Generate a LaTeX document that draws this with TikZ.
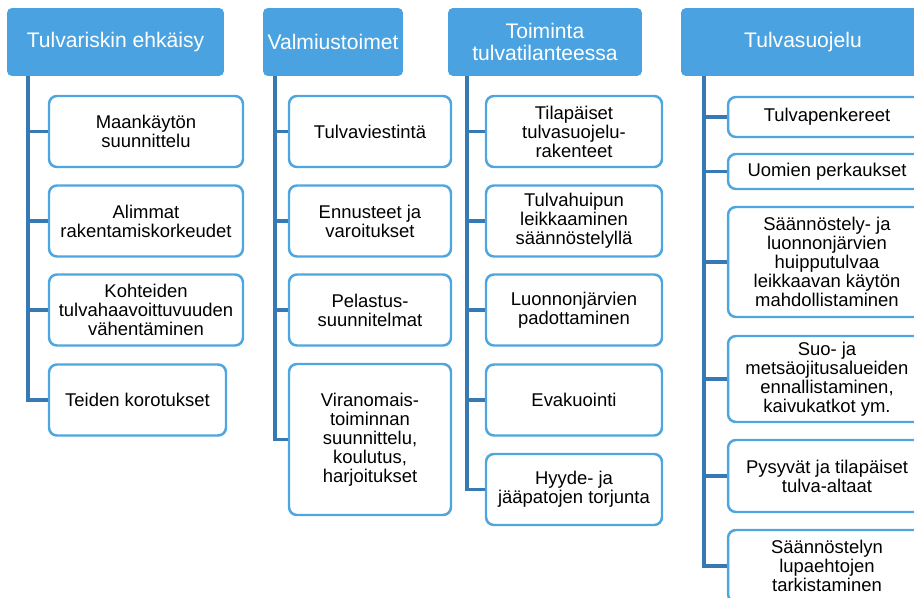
\documentclass[tikz,border=0pt]{standalone}
\usepackage{fontspec}
\setmainfont{Liberation Sans}
\definecolor{headblue}{HTML}{4AA3E0}
\definecolor{boxblue}{HTML}{4EA6E0}
\definecolor{lineblue}{HTML}{3679B3}
\tikzset{
	head/.style={fill=headblue, text=white, rounded corners=2.8pt, align=center, inner sep=1pt, minimum height=1.36cm, font=\fontsize{12}{12.6}\selectfont},
	item/.style={draw=boxblue, line width=1.4pt, fill=white, rounded corners=4.5pt, align=center, inner sep=1pt, font=\fontsize{10.5}{10.8}\selectfont},
	conn/.style={draw=lineblue, line width=2pt}
}
\begin{document}
\begin{tikzpicture}[x=.02cm, y=-.02cm]

	\useasboundingbox (0,0) rectangle (914,598);
	\clip (0,0) rectangle (914,598);

	\node[head, minimum width=4.34cm] (h1) at (115.5,42) {Tulvariskin ehkäisy};
	\node[head, minimum width=2.8cm] (h2) at (333,42) {Valmiustoimet};
	\node[head, minimum width=3.88cm] (h3) at (545,42) {Toiminta\\tulvatilanteessa};
	\node[head, minimum width=4.88cm] (h4) at (803,42) {Tulvasuojelu};

	\coordinate (v1) at (28,76);
	\coordinate (v2) at (275,76);
	\coordinate (v3) at (467,76);
	\coordinate (v4) at (704,76);

	\node[item, minimum width=3.88cm, minimum height=1.42cm] (a1) at (146,131.5) {Maankäytön\\suunnittelu};
	\node[item, minimum width=3.88cm, minimum height=1.42cm] (a2) at (146,221) {Alimmat\\rakentamiskorkeudet};
	\node[item, minimum width=3.88cm, minimum height=1.42cm] (a3) at (146,310) {Kohteiden\\tulvahaavoittuvuuden\\vähentäminen};
	\node[item, minimum width=3.54cm, minimum height=1.42cm] (a4) at (137.5,400) {Teiden korotukset};

	\node[item, minimum width=3.24cm, minimum height=1.42cm] (b1) at (370,131.5) {Tulvaviestintä};
	\node[item, minimum width=3.24cm, minimum height=1.42cm] (b2) at (370,221) {Ennusteet ja\\varoitukset};
	\node[item, minimum width=3.24cm, minimum height=1.42cm] (b3) at (370,310) {Pelastus-\\suunnitelmat};
	\node[item, minimum width=3.24cm, minimum height=3.02cm] (b4) at (370,439.5) {Viranomais-\\toiminnan\\suunnittelu,\\koulutus,\\harjoitukset};

	\node[item, minimum width=3.52cm, minimum height=1.42cm] (c1) at (574,131.5) {Tilapäiset\\tulvasuojelu-\\rakenteet};
	\node[item, minimum width=3.52cm, minimum height=1.42cm] (c2) at (574,221) {Tulvahuipun\\leikkaaminen\\säännöstelyllä};
	\node[item, minimum width=3.52cm, minimum height=1.42cm] (c3) at (574,310) {Luonnonjärvien\\padottaminen};
	\node[item, minimum width=3.52cm, minimum height=1.42cm] (c4) at (574,400) {Evakuointi};
	\node[item, minimum width=3.52cm, minimum height=1.42cm] (c5) at (574,489.5) {Hyyde- ja\\jääpatojen torjunta};

	\node[item, minimum width=3.96cm, minimum height=.8cm] (d1) at (827,117) {Tulvapenkereet};
	\node[item, minimum width=3.96cm, minimum height=.7cm] (d2) at (827,171.5) {Uomien perkaukset};
	\node[item, minimum width=3.96cm, minimum height=2.2cm] (d3) at (827,262) {Säännöstely- ja\\luonnonjärvien\\huipputulvaa\\leikkaavan käytön\\mahdollistaminen};
	\node[item, minimum width=3.96cm, minimum height=1.72cm] (d4) at (827,379) {Suo- ja\\metsäojitusalueiden\\ennallistaminen,\\kaivukatkot ym.};
	\node[item, minimum width=3.96cm, minimum height=1.44cm] (d5) at (827,476) {Pysyvät ja tilapäiset\\tulva-altaat};
	\node[item, minimum width=3.96cm, minimum height=1.44cm] (d6) at (827,566) {Säännöstelyn\\lupaehtojen\\tarkistaminen};

	\draw[conn] (v1) |- (a1.west);
	\draw[conn] (v1) |- (a2.west);
	\draw[conn] (v1) |- (a3.west);
	\draw[conn] (v1) |- (a4.west);

	\draw[conn] (v2) |- (b1.west);
	\draw[conn] (v2) |- (b2.west);
	\draw[conn] (v2) |- (b3.west);
	\draw[conn] (v2) |- (b4.west);

	\draw[conn] (v3) |- (c1.west);
	\draw[conn] (v3) |- (c2.west);
	\draw[conn] (v3) |- (c3.west);
	\draw[conn] (v3) |- (c4.west);
	\draw[conn] (v3) |- (c5.west);

	\draw[conn] (v4) |- (d1.west);
	\draw[conn] (v4) |- (d2.west);
	\draw[conn] (v4) |- (d3.west);
	\draw[conn] (v4) |- (d4.west);
	\draw[conn] (v4) |- (d5.west);
	\draw[conn] (v4) |- (d6.west);
\end{tikzpicture}
\end{document}
